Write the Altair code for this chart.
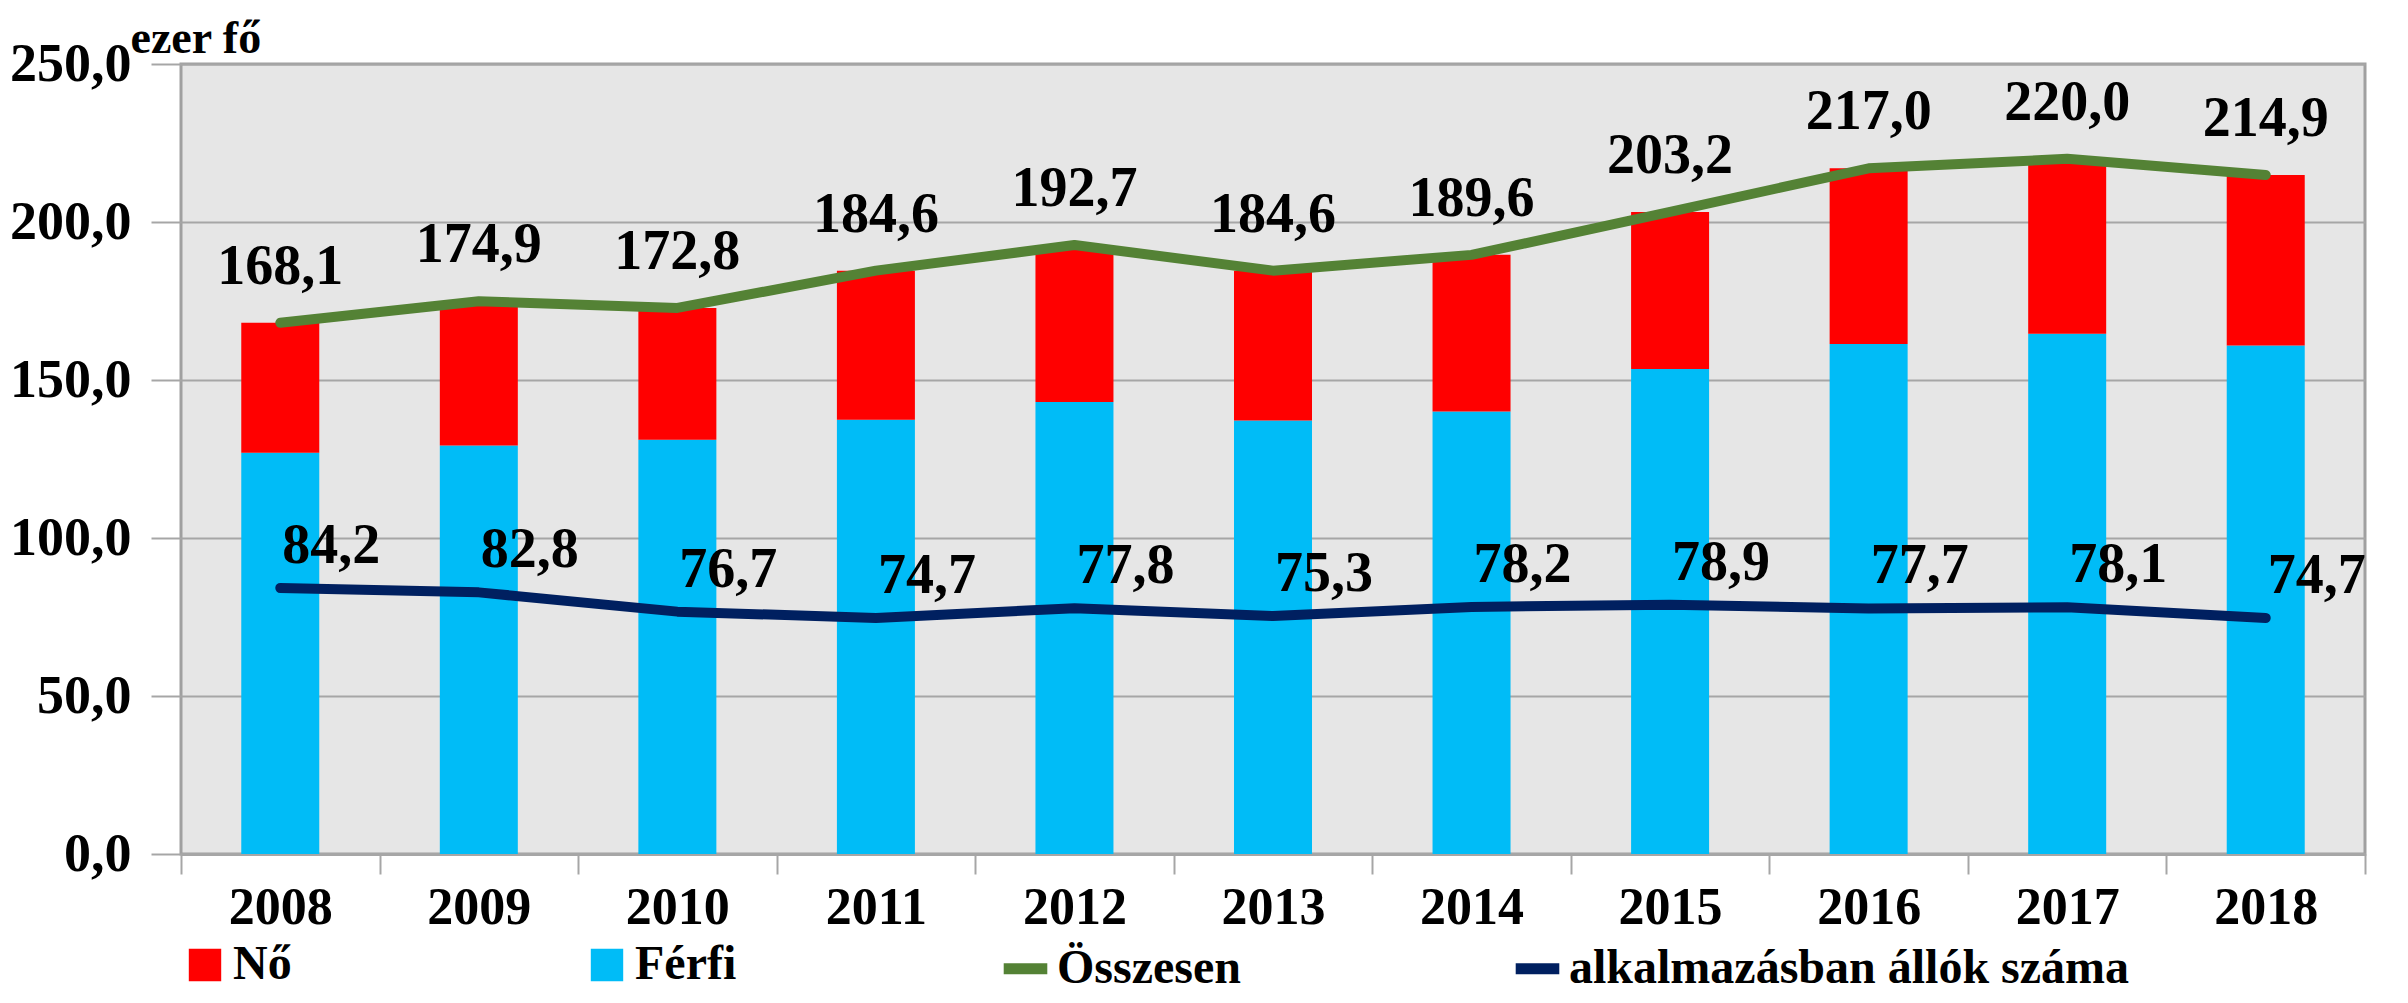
import altair as alt
import pandas as pd

years = ["2008", "2009", "2010", "2011", "2012", "2013", "2014", "2015", "2016", "2017", "2018"]
ferfi = [127.0, 129.3, 131.1, 137.4, 143.0, 137.2, 140.0, 153.5, 161.4, 164.6, 160.9]
no = [41.1, 45.6, 41.7, 47.2, 49.7, 47.4, 49.6, 49.7, 55.6, 55.4, 54.0]
osszesen = [168.1, 174.9, 172.8, 184.6, 192.7, 184.6, 189.6, 203.2, 217.0, 220.0, 214.9]
alkalmazasban = [84.2, 82.8, 76.7, 74.7, 77.8, 75.3, 78.2, 78.9, 77.7, 78.1, 74.7]

bar_names = ["Nő", "Férfi"]
bar_colors = ["#FF0000", "#00BCF7"]
line_names = ["Összesen", "alkalmazásban állók száma"]
line_colors = ["#548235", "#002060"]

bar_rows = []
for i, y in enumerate(years):
    bar_rows.append({"year": y, "series": "Férfi", "value": ferfi[i], "ord": 0})
    bar_rows.append({"year": y, "series": "Nő", "value": no[i], "ord": 1})
bars_df = pd.DataFrame(bar_rows)

line_rows = []
for i, y in enumerate(years):
    line_rows.append({"year": y, "series": "Összesen", "value": osszesen[i]})
    line_rows.append({"year": y, "series": "alkalmazásban állók száma", "value": alkalmazasban[i]})
lines_df = pd.DataFrame(line_rows)

FONT = "'Liberation Serif', 'Times New Roman', Times, serif"

common_legend = dict(
    title=None,
    orient="none",
    direction="horizontal",
    labelFont=FONT,
    labelFontSize=48,
    labelFontWeight="bold",
    labelColor="black",
    labelLimit=1000,
    labelOffset=4,
    padding=0,
)

fill_legend = alt.Legend(
    legendX=0, legendY=877, columns=2, columnPadding=291,
    symbolType="square", symbolSize=1050, symbolStrokeWidth=0, symbolOpacity=1,
    **common_legend,
)
stroke_legend = alt.Legend(
    legendX=817, legendY=877, columns=2, columnPadding=252,
    symbolType="stroke", symbolSize=1900, symbolStrokeWidth=11, symbolOpacity=1,
    **common_legend,
)

x_enc = alt.X(
    "year:N",
    title=None,
    sort=years,
    scale=alt.Scale(paddingInner=0, paddingOuter=0),
    axis=alt.Axis(
        labelAngle=0,
        labelFont=FONT,
        labelFontSize=52,
        labelFontWeight="bold",
        labelColor="black",
        labelPadding=8,
        tickBand="extent",
        tickSize=20,
        tickColor="#A6A6A6",
        tickWidth=2,
        domainColor="#A6A6A6",
        domainWidth=3,
        grid=False,
    ),
)

y_axis = alt.Axis(
    values=[0, 50, 100, 150, 200, 250],
    labelExpr="replace(format(datum.value, '.1f'), '.', ',')",
    labelFont=FONT,
    labelFontSize=54,
    labelFontWeight="bold",
    labelColor="black",
    labelPadding=20,
    tickSize=30,
    tickColor="#A6A6A6",
    tickWidth=2,
    domain=False,
    grid=True,
    gridColor="#A6A6A6",
    gridWidth=2,
    title="ezer fő",
    titleAngle=0,
    titleAlign="left",
    titleBaseline="alphabetic",
    titleX=-51,
    titleY=-12,
    titleFont=FONT,
    titleFontSize=46,
    titleFontWeight="bold",
    titleColor="black",
)

bars = alt.Chart(bars_df).mark_bar(size=78).encode(
    x=x_enc,
    y=alt.Y("value:Q", stack="zero", scale=alt.Scale(domain=[0, 250], nice=False), axis=y_axis),
    fill=alt.Fill("series:N", scale=alt.Scale(domain=bar_names, range=bar_colors), legend=fill_legend),
    order=alt.Order("ord:Q", sort="ascending"),
)

lines = alt.Chart(lines_df).mark_line(strokeWidth=10, strokeCap="round", strokeJoin="round").encode(
    x=alt.X("year:N", sort=years),
    y=alt.Y("value:Q"),
    stroke=alt.Stroke("series:N", scale=alt.Scale(domain=line_names, range=line_colors), legend=stroke_legend),
)

label_expr = "replace(format(datum.value, '.1f'), '.', ',')"

tot_labels = (
    alt.Chart(lines_df)
    .transform_filter("datum.series == 'Összesen'")
    .transform_calculate(lbl=label_expr)
    .mark_text(dy=-56, align="center", baseline="middle", font=FONT, fontSize=56, fontWeight="bold", color="black")
    .encode(x=alt.X("year:N", sort=years), y=alt.Y("value:Q"), text="lbl:N")
)

alk_labels = (
    alt.Chart(lines_df)
    .transform_filter("datum.series == 'alkalmazásban állók száma'")
    .transform_calculate(lbl=label_expr)
    .mark_text(dy=-42, dx=2, align="left", baseline="middle", font=FONT, fontSize=56, fontWeight="bold", color="black")
    .encode(x=alt.X("year:N", sort=years), y=alt.Y("value:Q"), text="lbl:N")
)

chart = (
    alt.layer(bars, lines, tot_labels, alk_labels)
    .properties(
        width=2184,
        height=790,
        autosize=alt.AutoSizeParams(type="none"),
        padding={"left": 173, "top": 56, "right": 35, "bottom": 141},
        background="white",
    )
    .configure_view(fill="#E6E6E6", stroke="#A0A0A0", strokeWidth=3)
)

chart.save("out.html", embed_options={"renderer": "svg", "actions": False})
